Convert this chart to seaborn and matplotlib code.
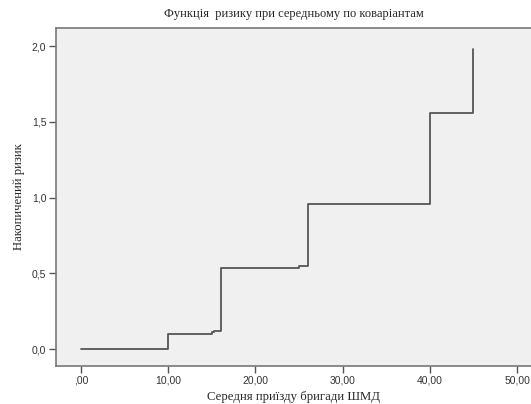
import seaborn as sns
import matplotlib.pyplot as plt
import pandas as pd

# cumulative hazard at mean of covariates
time_vals = [0, 10, 15, 15.3, 16, 25, 26, 40, 45]
hazard_vals = [0.0, 0.10, 0.11, 0.12, 0.535, 0.55, 0.96, 1.56, 1.98]

x_ticks = [0, 10, 20, 30, 40, 50]
x_tick_labels = [",00", "10,00", "20,00", "30,00", "40,00", "50,00"]
y_ticks = [0.0, 0.5, 1.0, 1.5, 2.0]
y_tick_labels = ["0,0", "0,5", "1,0", "1,5", "2,0"]

df = pd.DataFrame({"time": time_vals, "hazard": hazard_vals})

sns.set_style("white")
fig = plt.figure(figsize=(5.31, 4.04), dpi=100)
ax = fig.add_axes([0.1055, 0.094, 0.8945, 0.8366])
ax.set_facecolor("#f0f0f0")

sns.lineplot(data=df, x="time", y="hazard", drawstyle="steps-post",
             color="#555555", linewidth=1.3, ax=ax)

ax.set_xlim(-2.87, 51.6)
ax.set_ylim(-0.112, 2.12)
ax.set_xticks(x_ticks)
ax.set_xticklabels(x_tick_labels, fontfamily="Liberation Sans", fontsize=7.5, color="#333333")
ax.set_yticks(y_ticks)
ax.set_yticklabels(y_tick_labels, fontfamily="Liberation Sans", fontsize=7.5, color="#333333")
ax.tick_params(axis="both", direction="out", length=5, width=1, color="#555555",
               left=True, bottom=True, pad=2)

for side in ["left", "bottom", "top"]:
    ax.spines[side].set_color("#777777")
    ax.spines[side].set_linewidth(1.2)
ax.spines["right"].set_visible(False)

ax.set_title("Функція  ризику при середньому по коваріантам",
             fontfamily="Liberation Serif", fontsize=9, pad=8)
ax.set_xlabel("Середня приїзду бригади ШМД", fontfamily="Liberation Serif", fontsize=9.2, labelpad=4)
ax.set_ylabel("Накопичений ризик", fontfamily="Liberation Serif", fontsize=9.2, labelpad=5)

fig.savefig("out.png", dpi=100)
